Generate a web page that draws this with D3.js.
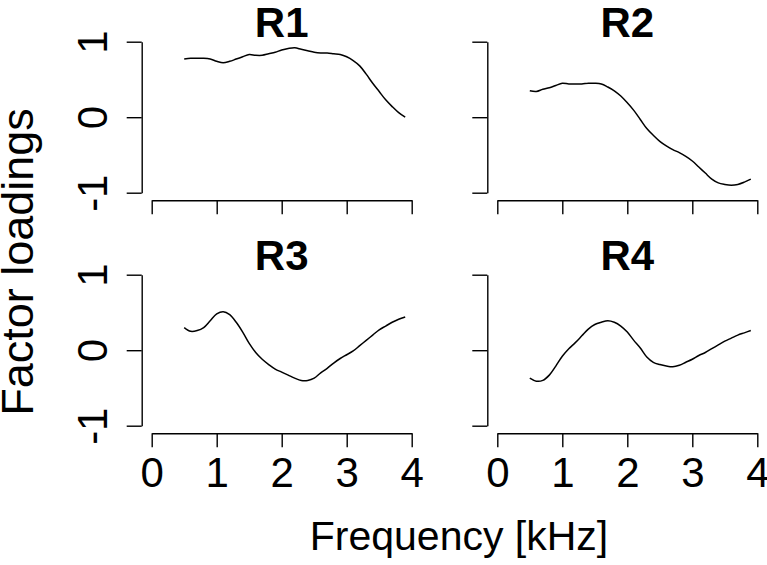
<!DOCTYPE html>
<html>
<head>
<meta charset="utf-8">
<script src="https://cdn.jsdelivr.net/npm/d3@7"></script>
<style>
  body { margin: 0; background: #fff; }
  svg text { font-family: "Liberation Sans", Arial, Helvetica, sans-serif; fill: #000; }
  .axis path, .axis line { stroke: #000; stroke-width: 1.4; }
</style>
</head>
<body>
<div id="chart"></div>
<script>
// frequency grid (kHz)
var freq = [0.5, 0.6, 0.7, 0.8, 0.9, 1.0, 1.1, 1.2, 1.3, 1.4, 1.5, 1.6, 1.7, 1.8, 1.9,
            2.0, 2.1, 2.2, 2.3, 2.4, 2.5, 2.6, 2.7, 2.8, 2.9, 3.0, 3.1, 3.2, 3.3, 3.4,
            3.5, 3.6, 3.7, 3.8, 3.9];

// factor loadings
var r1 = [0.77, 0.78, 0.78, 0.78, 0.77, 0.74, 0.72, 0.74, 0.77, 0.80, 0.83, 0.82, 0.82, 0.84, 0.86,
          0.89, 0.91, 0.92, 0.90, 0.88, 0.86, 0.85, 0.85, 0.84, 0.83, 0.80, 0.75, 0.68, 0.57, 0.45,
          0.34, 0.23, 0.14, 0.06, 0.00];
var r2 = [0.35, 0.34, 0.37, 0.39, 0.42, 0.45, 0.44, 0.44, 0.44, 0.45, 0.45, 0.44, 0.40, 0.35, 0.28,
          0.19, 0.09, -0.03, -0.15, -0.24, -0.32, -0.38, -0.43, -0.47, -0.52, -0.58, -0.66, -0.74, -0.82, -0.87,
          -0.89, -0.90, -0.89, -0.86, -0.82];
var r3 = [0.30, 0.25, 0.26, 0.30, 0.39, 0.48, 0.51, 0.47, 0.37, 0.24, 0.09, -0.03, -0.12, -0.19, -0.25,
          -0.29, -0.33, -0.37, -0.40, -0.40, -0.37, -0.30, -0.24, -0.17, -0.11, -0.06, -0.01, 0.06, 0.13, 0.20,
          0.27, 0.32, 0.37, 0.41, 0.44];
var r4 = [-0.37, -0.41, -0.40, -0.33, -0.21, -0.08, 0.02, 0.10, 0.19, 0.28, 0.34, 0.37, 0.39, 0.37, 0.32,
          0.24, 0.13, 0.03, -0.09, -0.16, -0.19, -0.21, -0.22, -0.20, -0.16, -0.12, -0.07, -0.03, 0.02, 0.07,
          0.12, 0.16, 0.20, 0.23, 0.26];

var titles = ["R1", "R2", "R3", "R4"];
var series = [r1, r2, r3, r4];
var xTicks = [0, 1, 2, 3, 4];
var yTicks = [-1, 0, 1];

var W = 767, H = 565;

var svg = d3.select("#chart").append("svg")
    .attr("width", W)
    .attr("height", H);

// panel positions: pixel of x=0 and of y=1 for each panel
var panels = [
  {x0: 151.7, y1: 41.7, xLab: false, yLab: true},
  {x0: 497.3, y1: 41.7, xLab: false, yLab: false},
  {x0: 151.7, y1: 274.7, xLab: true, yLab: true},
  {x0: 497.3, y1: 274.7, xLab: true, yLab: false}
];

var kHzPx = 65, unitPx = 75.5;

panels.forEach(function(p, i) {
  var x = d3.scaleLinear().domain([0, 4]).range([p.x0, p.x0 + 4 * kHzPx]);
  var y = d3.scaleLinear().domain([-1, 1]).range([p.y1 + 2 * unitPx, p.y1]);

  var g = svg.append("g");

  // y axis, R style: sits left of the plot
  var yAxis = g.append("g")
      .attr("class", "axis")
      .attr("transform", "translate(" + (p.x0 - 10) + ",0)")
      .call(d3.axisLeft(y).tickValues(yTicks).tickSize(15).tickSizeOuter(0));
  yAxis.selectAll("text").remove();
  if (p.yLab) {
    yAxis.selectAll(".tick").append("text")
        .attr("transform", "rotate(-90)")
        .attr("x", 0)
        .attr("y", -35)
        .attr("text-anchor", "middle")
        .style("font-size", "42px")
        .text(function(d) { return d; });
  }

  // x axis below the plot
  var xAxis = g.append("g")
      .attr("class", "axis")
      .attr("transform", "translate(0," + (p.y1 + 2 * unitPx + 7.5) + ")")
      .call(d3.axisBottom(x).tickValues(xTicks).tickSize(14).tickSizeOuter(0));
  xAxis.selectAll("text").remove();
  if (p.xLab) {
    xAxis.selectAll(".tick").append("text")
        .attr("y", 54)
        .attr("text-anchor", "middle")
        .style("font-size", "42px")
        .text(function(d) { return d; });
  }

  xAxis.select(".domain").attr("fill", "none");
  yAxis.select(".domain").attr("fill", "none");

  // panel title
  g.append("text")
      .attr("x", p.x0 + 2 * kHzPx)
      .attr("y", p.y1 - 5)
      .attr("text-anchor", "middle")
      .style("font-size", "42px")
      .style("font-weight", "bold")
      .text(titles[i]);

  // the loading curve
  var line = d3.line()
      .x(function(d, j) { return x(freq[j]); })
      .y(function(d) { return y(d); })
      .curve(d3.curveCatmullRom);

  g.append("path")
      .datum(series[i])
      .attr("fill", "none")
      .attr("stroke", "#000")
      .attr("stroke-width", 1.5)
      .attr("d", line);
});

// shared axis titles
svg.append("text")
    .attr("transform", "translate(33,262) rotate(-90)")
    .attr("text-anchor", "middle")
    .style("font-size", "45px")
    .text("Factor loadings");

svg.append("text")
    .attr("x", 459)
    .attr("y", 550)
    .attr("text-anchor", "middle")
    .style("font-size", "41px")
    .text("Frequency [kHz]");
</script>
</body>
</html>
